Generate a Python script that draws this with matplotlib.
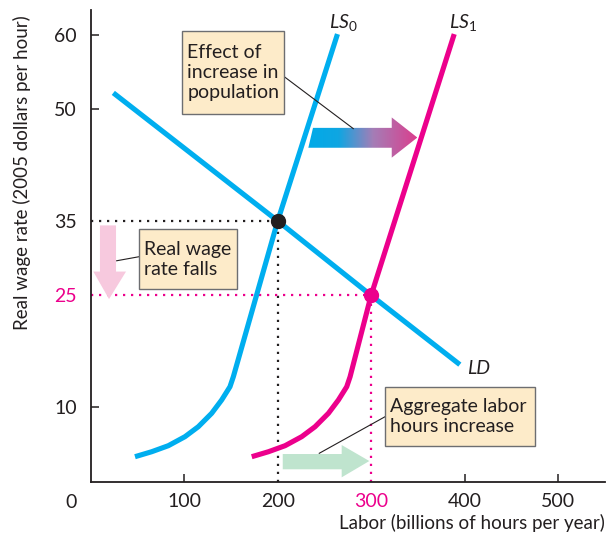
import numpy as np
import matplotlib
matplotlib.use("Agg")
import matplotlib.pyplot as plt
from matplotlib.patches import Polygon, Rectangle
from matplotlib.colors import LinearSegmentedColormap

plt.rcParams['font.family'] = ['Lato', 'DejaVu Sans']
plt.rcParams['mathtext.fontset'] = 'custom'
plt.rcParams['mathtext.it'] = 'Lato:italic'
plt.rcParams['mathtext.rm'] = 'Lato'

# ---------------- data ----------------
ls0_x = [47.2, 65.1, 82.9, 100.7, 115.0, 129.3, 140.0, 148.9, 152.5, 200.0, 264.0]
ls0_y = [3.33, 4.00, 4.81, 6.02, 7.36, 9.16, 10.95, 12.73, 14.07, 35.0, 60.1]
ls1_x = [172.2, 190.1, 207.9, 225.7, 240.0, 254.3, 265.0, 273.9, 277.5, 300.0, 389.0]
ls1_y = [3.33, 4.00, 4.81, 6.02, 7.36, 9.16, 10.95, 12.73, 14.07, 25.0, 60.1]
ld_x = [24.0, 200.0, 300.0, 395.0]
ld_y = [52.2, 35.0, 25.0, 15.7]
eq0 = (200, 35)
eq1 = (300, 25)
xticks = [100, 200, 300, 400, 500]
yticks = [10, 25, 35, 50, 60]

BLUE = '#00AEEF'
MAG = '#EC008C'
DARK = '#231F20'
BOXFC = '#FDEBC9'
BOXEC = '#6D6E71'
FS = 14

fig = plt.figure(figsize=(6.13, 5.36), dpi=100)
ax = fig.add_axes([90.9 / 613, 54.5 / 536, 513.7 / 613, 472 / 536])
ax.set_xlim(0, 550)
ax.set_ylim(0, 63.4)

for s in ['top', 'right']:
    ax.spines[s].set_visible(False)
for s in ['left', 'bottom']:
    ax.spines[s].set_color(DARK)
    ax.spines[s].set_linewidth(1.3)

ax.set_xticks(xticks)
ax.set_xticklabels([str(v) for v in xticks])
ax.set_yticks(yticks)
ax.set_yticklabels([str(v) for v in yticks])
ax.tick_params(direction='in', length=6, width=1.1, color=DARK, labelsize=FS,
               labelcolor=DARK)
ax.tick_params(axis='x', pad=8)
ax.tick_params(axis='y', pad=10)
for i, v in enumerate(xticks):
    t = ax.xaxis.get_major_ticks()[i]
    if v in (200, 300):
        t.tick1line.set_visible(False)
    if v == 300:
        t.label1.set_color(MAG)
for i, v in enumerate(yticks):
    t = ax.yaxis.get_major_ticks()[i]
    if v in (25, 35):
        t.tick1line.set_visible(False)
    if v == 25:
        t.label1.set_color(MAG)

ax.text(-14.9, -1.7, '0', ha='right', va='top', fontsize=FS, color=DARK)

# dotted guides
dot = (0, (1, 2.6))
ax.plot([0, eq0[0]], [eq0[1], eq0[1]], ls=dot, color=DARK, lw=1.6, zorder=2)
ax.plot([eq0[0], eq0[0]], [0, eq0[1]], ls=dot, color=DARK, lw=1.6, zorder=2)
ax.plot([0, eq1[0]], [eq1[1], eq1[1]], ls=dot, color=MAG, lw=1.6, zorder=2)
ax.plot([eq1[0], eq1[0]], [0, eq1[1]], ls=dot, color=MAG, lw=1.6, zorder=2)

# curves
ax.plot(ls0_x, ls0_y, color=BLUE, lw=3.7, solid_capstyle='butt', solid_joinstyle='round', zorder=3)
ax.plot(ld_x, ld_y, color=BLUE, lw=3.7, solid_capstyle='butt', zorder=3)
ax.plot(ls1_x, ls1_y, color=MAG, lw=3.7, solid_capstyle='butt', solid_joinstyle='round', zorder=3)

ax.plot(*eq0, 'o', color=DARK, ms=10, zorder=5)
ax.plot(*eq1, 'o', color=MAG, ms=10, zorder=5)

# curve labels
ax.text(255, 61.6, r'$\mathit{LS}_{\mathrm{0}}$', fontsize=FS, color=DARK, ha='left', va='center')
ax.text(383.5, 61.6, r'$\mathit{LS}_{\mathrm{1}}$', fontsize=FS, color=DARK, ha='left', va='center')
ax.text(402.3, 15.2, 'LD', fontsize=FS, color=DARK, ha='left', va='center', style='italic')

# gradient arrow (population increase)
arrow_pts = [(232.8, 44.83), (237.8, 47.5), (322.1, 47.5), (322.1, 48.9),
             (349.5, 46.2), (322.1, 43.5), (322.1, 44.83)]
poly = Polygon(arrow_pts, closed=True, fc='none', ec='none', zorder=4)
ax.add_patch(poly)
cmap = LinearSegmentedColormap.from_list('g', [(0, '#00AAE8'), (0.28, '#0FA6E2'),
                                              (0.6, '#A57DB6'), (1.0, '#DA3F8E')])
grad = np.linspace(0, 1, 256).reshape(1, -1)
im = ax.imshow(grad, extent=[232.8, 349.5, 43.5, 48.9], cmap=cmap, aspect='auto',
               zorder=4, interpolation='bilinear')
im.set_clip_path(poly)

# pink arrow (wage falls)
pink_pts = [(9.7, 34.4), (26.9, 34.4), (26.9, 28.2), (37.6, 28.2), (19.4, 24.5),
            (2.6, 28.2), (9.7, 28.2)]
ax.add_patch(Polygon(pink_pts, closed=True, fc='#F7C9DE', ec='none', zorder=4))

# green arrow (labor hours increase)
green_pts = [(205.4, 1.64), (205.4, 3.69), (268.5, 3.69), (268.5, 4.9), (298.1, 2.75),
             (268.5, 0.56), (268.5, 1.64)]
ax.add_patch(Polygon(green_pts, closed=True, fc='#BFE4CE', ec='none', zorder=4))

# leader lines
ax.plot([207.8, 280.9], [54.3, 47.4], color=DARK, lw=0.8, zorder=6)
ax.plot([51.8, 27.6], [30.2, 29.65], color=DARK, lw=0.8, zorder=6)
ax.plot([314.9, 244.5], [8.7, 3.79], color=DARK, lw=0.8, zorder=6)

# boxes
def box(x0, x1, y0, y1, text):
    ax.add_patch(Rectangle((x0, y0), x1 - x0, y1 - y0, fc=BOXFC, ec=BOXEC, lw=1.0, zorder=7))
    ax.text(x0 + 5.5, (y0 + y1) / 2, text, ha='left', va='center', fontsize=FS,
            color=DARK, linespacing=1.22, zorder=8)

box(97.9, 206.4, 49.3, 60.5, 'Effect of\nincrease in\npopulation')
box(51.8, 156.1, 25.85, 33.87, 'Real wage\nrate falls')
box(314.9, 475.8, 4.77, 12.65, 'Aggregate labor\nhours increase')

# axis labels
fig.text(605 / 613, 1 - 523 / 536, 'Labor (billions of hours per year)', ha='right',
         va='center', fontsize=13.5, color=DARK)
fig.text(22 / 613, 1 - 15 / 536, 'Real wage rate (2005 dollars per hour)', ha='center',
         va='top', rotation=90, fontsize=13.5, color=DARK)

fig.savefig('out.png', dpi=100)
